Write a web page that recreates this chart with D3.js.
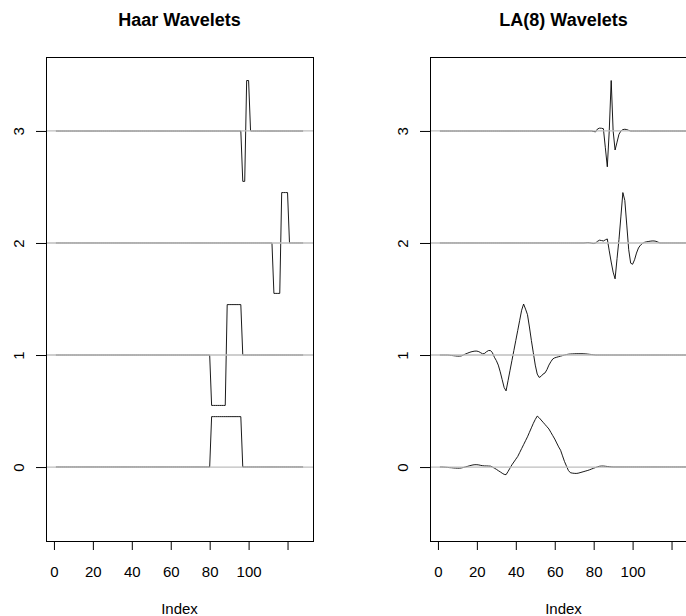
<!DOCTYPE html>
<html>
<head>
<meta charset="utf-8">
<script src="https://cdn.jsdelivr.net/npm/d3@7"></script>
<style>
body { margin: 0; background: #fff; }
text { font-family: "Liberation Sans", Arial, sans-serif; fill: #000; }
</style>
</head>
<body>
<div class="chart"></div>
<script>

// index runs 1..128 in both panels
const nIndex = 128
const xTicks = [0, 20, 40, 60, 80, 100, 120]
const xTickLabels = ['0', '20', '40', '60', '80', '100', '']
const yTicks = [0, 1, 2, 3]
const levels = [0, 1, 2, 3]
const titles = ['Haar Wavelets', 'LA(8) Wavelets']

// Haar: nonzero stretch of each curve, start index + values
const haarStart = [81, 81, 113, 97]
const haar0 = [0.45, 0.45, 0.45, 0.45, 0.45, 0.45, 0.45, 0.45, 0.45, 0.45, 0.45, 0.45, 0.45, 0.45, 0.45, 0.45]
const haar1 = [-0.45, -0.45, -0.45, -0.45, -0.45, -0.45, -0.45, -0.45, 0.45, 0.45, 0.45, 0.45, 0.45, 0.45, 0.45, 0.45]
const haar2 = [-0.45, -0.45, -0.45, -0.45, 0.45, 0.45, 0.45, 0.45]
const haar3 = [-0.45, -0.45, 0.45, 0.45]

// LA(8)
const laStart = [1, 1, 74, 79]
const la0 = [
    0, 0, -0.001, -0.002, -0.003, -0.005, -0.006, -0.008, -0.009, -0.01,
    -0.01, -0.008, -0.004, 0, 0.005, 0.01, 0.015, 0.019, 0.021, 0.021,
    0.019, 0.015, 0.012, 0.01, 0.01, 0.009, 0.008, 0, -0.01, -0.02,
    -0.032, -0.043, -0.055, -0.065, -0.068, -0.04, -0.01, 0.02, 0.045, 0.07,
    0.095, 0.13, 0.165, 0.2, 0.235, 0.27, 0.31, 0.35, 0.39, 0.425,
    0.455, 0.44, 0.42, 0.4, 0.38, 0.36, 0.34, 0.31, 0.28, 0.25,
    0.215, 0.18, 0.15, 0.1, 0.05, 0.01, -0.03, -0.05, -0.054, -0.056,
    -0.057, -0.055, -0.05, -0.045, -0.04, -0.035, -0.03, -0.024, -0.017, -0.01,
    -0.004, 0.002, 0.007, 0.009, 0.009, 0.007, 0.005, 0.003, 0.001, 0
]
const la1 = [
    0, 0, 0, 0, 0, -0.002, -0.004, -0.006, -0.008, -0.01,
    -0.01, -0.008, 0, 0.008, 0.015, 0.022, 0.028, 0.032, 0.035, 0.035,
    0.03, 0.02, 0.01, 0.015, 0.03, 0.04, 0.04, 0.02, -0.02, -0.05,
    -0.09, -0.15, -0.22, -0.29, -0.32, -0.23, -0.14, -0.05, 0.04, 0.13,
    0.22, 0.31, 0.4, 0.455, 0.41, 0.36, 0.25, 0.13, 0.02, -0.09,
    -0.17, -0.2, -0.19, -0.17, -0.16, -0.13, -0.09, -0.06, -0.035, -0.025,
    -0.02, -0.015, -0.01, -0.005, 0, 0.004, 0.007, 0.009, 0.01, 0.011,
    0.012, 0.012, 0.012, 0.012, 0.011, 0.01, 0.008, 0.006, 0.004, 0.002,
    0
]
const la2 = [
    0, 0, 0.002, 0.004, 0.002, -0.002, -0.005, 0, 0.015, 0.025,
    0.022, 0.018, 0.028, 0.036, -0.07, -0.17, -0.26, -0.32, -0.14, 0.03,
    0.24, 0.45, 0.38, 0.16, -0.06, -0.18, -0.19, -0.15, -0.09, -0.045,
    -0.02, -0.005, 0.005, 0.01, 0.013, 0.016, 0.018, 0.018, 0.015, 0.008,
    0
]
const la3 = [
    0, -0.005, -0.008, 0.018, 0.025, 0.024, 0.02, -0.15, -0.32, 0,
    0.45, 0, -0.17, -0.1, -0.03, 0, 0.012, 0.015, 0.012, 0.005,
    0
]


function fullSeries(start, vals) {
    let out = []
    for (let i = 1; i <= nIndex; i++) {
        let k = i - start
        out.push({ i: i, v: (k >= 0 && k < vals.length) ? vals[k] : 0 })
    }
    return out
}


function drawPanel(svg, left, title, curves, id) {
    let w = 267, top = 57, bottom = 541
    let x = d3.scaleLinear().domain([-4.08, 133.08]).range([left, left + w])
    let y = d3.scaleLinear().domain([-0.66, 3.66]).range([bottom, top])

    svg.append('clipPath').attr('id', id)
        .append('rect')
        .attr('x', left).attr('y', top)
        .attr('width', w).attr('height', bottom - top)

    let g = svg.append('g').attr('clip-path', `url(#${id})`)

    curves.forEach((c, k) => {
        let line = d3.line()
            .x(d => x(d.i))
            .y(d => y(levels[k] + d.v))
        g.append('path')
            .datum(c)
            .attr('d', line)
            .attr('fill', 'none')
            .attr('stroke', '#000')
            .attr('stroke-width', 0.9)
    })

    // abline(h = 0:3) goes on top of the curves
    levels.forEach(l => {
        g.append('line')
            .attr('x1', left).attr('x2', left + w)
            .attr('y1', y(l)).attr('y2', y(l))
            .attr('stroke', '#bebebe')
            .attr('stroke-width', 1.3)
    })

    svg.append('rect')
        .attr('x', left + 0.5).attr('y', top + 0.5)
        .attr('width', w).attr('height', bottom - top)
        .attr('fill', 'none')
        .attr('stroke', '#000')
        .attr('shape-rendering', 'crispEdges')

    let xAxis = svg.append('g')
        .attr('transform', `translate(0,${bottom})`)
        .call(d3.axisBottom(x).tickValues(xTicks).tickSize(9).tickPadding(16)
            .tickFormat((d, i) => xTickLabels[i]))
    xAxis.select('.domain').remove()
    xAxis.selectAll('text').attr('font-size', 15).attr('font-family', null)

    let yAxis = svg.append('g')
        .attr('transform', `translate(${left},0)`)
        .call(d3.axisLeft(y).tickValues(yTicks).tickSize(10).tickFormat(d3.format('d')))
    yAxis.select('.domain').remove()
    yAxis.selectAll('text')
        .attr('x', null).attr('dy', '0.35em')
        .attr('text-anchor', 'middle')
        .attr('transform', 'translate(-27.5,0) rotate(-90)')
        .attr('font-size', 15).attr('font-family', null)
    svg.selectAll('.tick line').attr('stroke', '#000')

    svg.append('text')
        .attr('x', left + w / 2).attr('y', 26)
        .attr('text-anchor', 'middle')
        .attr('font-weight', 'bold')
        .attr('font-size', 18)
        .text(title)

    svg.append('text')
        .attr('x', left + w / 2).attr('y', 614)
        .attr('text-anchor', 'middle')
        .attr('font-size', 15)
        .text('Index')
}


let svg = d3.select('.chart')
    .append('svg')
    .attr('width', 686)
    .attr('height', 616)

let haarCurves = [haar0, haar1, haar2, haar3].map((v, k) => fullSeries(haarStart[k], v))
let laCurves = [la0, la1, la2, la3].map((v, k) => fullSeries(laStart[k], v))

drawPanel(svg, 46, titles[0], haarCurves, 'clipHaar')
drawPanel(svg, 430, titles[1], laCurves, 'clipLA')

</script>
</body>
</html>
